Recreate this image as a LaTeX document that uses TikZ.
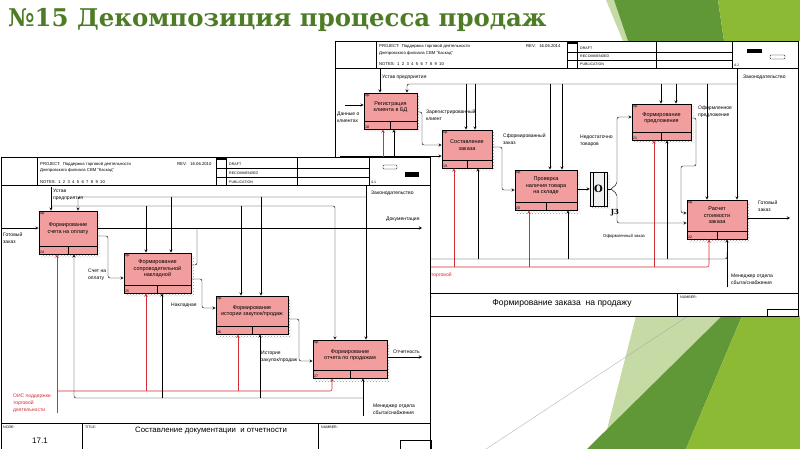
\documentclass[tikz,border=0pt]{standalone}
\usepackage{fontspec}
\setmainfont{Liberation Sans}
\newfontfamily\headfont{DejaVu Serif}
\usetikzlibrary{patterns}
\definecolor{titlegreen}{RGB}{78,124,38}
\definecolor{leafdark}{RGB}{96,152,56}
\definecolor{leaflime}{RGB}{140,186,52}
\definecolor{leafpale}{RGB}{198,218,166}
\definecolor{boxpink}{RGB}{242,158,158}
\definecolor{mechred}{RGB}{212,48,58}
\newcommand{\Lf}[2]{\fontsize{#1}{#2}\selectfont}
% name, x1, y1, x2, y2, number, text
\newcommand{\funcbox}[7]{%
  \fill[pattern=crosshatch dots, pattern color=black!40] (#2+2,#3+3) rectangle (#4+3,#5+3);
  \node[fbox, minimum width={#4-#2}, minimum height={#5-#3}] (#1) at ({(#2+#4)/2},{(#3+#5)/2}) {};
  \draw[line width=0.5pt] (#2,#5-8) -- (#4,#5-8);
  \draw[line width=0.5pt] ({(#2+#4)/2},#5-8) -- ({(#2+#4)/2},#5);
  \node[ftext] (#1-t) at ({(#2+#4)/2},{(#3+#5-8)/2}) {#7};
  \node[tinylbl, anchor=north west] (#1-c) at (#2+1,#3+1) {0р.};
  \node[tinylbl, anchor=south west] (#1-n) at (#2+1,#5-0.5) {#6};
}
\tikzset{
  sheet/.style={line width=0.6pt},
  fbox/.style={draw, fill=boxpink, line width=0.6pt, inner sep=0pt},
  ftext/.style={font=\Lf{5.5}{6.4}, align=center, inner sep=0pt},
  arr/.style={->, >=stealth, line width=0.45pt, rounded corners=2pt},
  redarr/.style={arr, draw=mechred, line width=0.6pt},
  lbl/.style={font=\Lf{5}{7}, align=left, inner sep=0pt, anchor=north west},
  hdr/.style={font=\Lf{4.2}{5}, inner sep=0pt, anchor=west},
  tinylbl/.style={font=\Lf{3.6}{4.2}, inner sep=0pt, anchor=west},
}

\begin{document}
\begin{tikzpicture}[x=1pt,y=-1pt]
\useasboundingbox (0,0) rectangle (800,449);
\fill[white] (0,0) rectangle (800,449);

%%%%%%%%%%%%%%%%%%%%%%%%%%%%%%%%%%%%%%%%%%%%%%%%%%%%%%%%%%%%%% leaves
\fill[leafpale] (606,0) -- (614,0) -- (628,41) -- (623,41) -- cycle;
\fill[leafdark] (614,0) -- (718,0) -- (724,41) -- (628,41) -- cycle;
\fill[leaflime] (718,0) -- (800,0) -- (800,41) -- (724,41) -- cycle;
\fill[leafpale] (636,316) -- (725,316) -- (620,449) -- (602,449) -- cycle;
\fill[leafdark] (722,316) -- (742,316) -- (686,449) -- (587,449) -- cycle;
\fill[leaflime] (742,316) -- (800,316) -- (800,449) -- (686,449) -- cycle;
\draw[black!35, line width=0.3pt] (688,316) -- (486,449);

%%%%%%%%%%%%%%%%%%%%%%%%%%%%%%%%%%%%%%%%%%%%%%%%%%%%%%%%%%%%%% title
\node[anchor=base west, inner sep=0pt, text=titlegreen, font=\headfont\bfseries\Lf{24.4}{30}] (title) at (8,27) {№15 Декомпозиция процесса продаж};

%%%%%%%%%%%%%%%%%%%%%%%%%%%%%%%%%%%%%%%%%%%%%%%%%%%%%%%%%%%%%% sheet-R
\filldraw[sheet, fill=white] (335,41) rectangle (798,316);
\draw (335,68) -- (798,68);
\draw (376,41) -- (376,68);
\draw (567,41) -- (567,68);
\draw (577,41) -- (577,68);
\fill (567,41) rectangle (577,44);
\draw (567,52) -- (732,52);
\draw (567,60) -- (732,60);
\draw (656,41) -- (656,68);
\draw (732,41) -- (732,68);
\fill (747,49) rectangle (762,53);
\draw[rounded corners=0.8pt] (770,55) rectangle (785,59);
\node[hdr] (rProj) at (379,46) {PROJECT:\ \ Поддержка торговой деятельности};
\node[hdr] (rFil) at (379,53) {Днепровского филиала СВМ "Каскад"};
\node[hdr] (rNotes) at (379,64) {NOTES:\ \ 1\ \ 2\ \ 3\ \ 4\ \ 5\ \ 6\ \ 7\ \ 8\ \ 9\ \ 10};
\node[hdr] (rRev) at (526,46) {REV:\ \ \ 16.06.2014};
\node[tinylbl] (rDraft) at (580,48) {DRAFT};
\node[tinylbl] (rRec) at (580,56) {RECOMMENDED};
\node[tinylbl] (rPub) at (580,64) {PUBLICATION};
\node[tinylbl] (rPage) at (734,65) {4.1};
\draw (335,293) -- (798,293);
\draw (677,293) -- (677,316);
\draw (767,309) rectangle (798,316);
\node[tinylbl] (rTitleKey) at (421,297) {TITLE:};
\node[font=\Lf{8.6}{10}, inner sep=0pt] (rTitle) at (562,303) {Формирование заказа\ \ на продажу};
\node[tinylbl] (rNumKey) at (680,297) {NUMBER:};

\funcbox{r1}{364}{93}{417}{129}{18}{Регистрация\\клиента в БД}
\funcbox{r2}{442}{130}{492}{168}{19}{Составление\\заказа}
\funcbox{r3}{515}{170}{577}{210}{20}{Проверка\\наличия товара\\на складе}
\funcbox{r4}{632}{104}{691}{140}{21}{Формирование\\предложения}
\funcbox{r5}{687}{200}{747}{239}{22}{Расчет\\стоимости\\заказа}

\fill[pattern=crosshatch dots, pattern color=black!40] (592,175) rectangle (610,209);
\node[draw, fill=black!6, minimum width=17, minimum height=34, inner sep=0pt, font=\headfont\bfseries\Lf{10}{12}] (j3) at (598.5,189) {O};
\draw ([xshift=3]j3.north west) -- ([xshift=3]j3.south west);
\draw ([xshift=-3]j3.north east) -- ([xshift=-3]j3.south east);
\node[font=\headfont\bfseries\Lf{7}{8}, inner sep=0pt] (j3L) at (615,213) {J3};

% controls
\coordinate (rUst) at (380,69);
\coordinate (rZak) at (737,69);
\draw[arr] (rUst) -- (r1.north -| 380,0);
\draw[arr] (rZak) -- (r5.north -| 737,0);
\draw[arr] (737,84) -- (407,84) -- (r1.north -| 407,0);
\foreach \x/\b in {466/r2,475/r2,550/r3,562/r3,661/r4,676/r4,707/r5}
  \draw[arr] (\x,84) -- (\b.north -| \x,0);
\node[lbl] (rUstL) at (382,75) {Устав предприятия};
\node[lbl] (rZakL) at (743,75) {Законодательство};

% inputs and outputs
\coordinate (rIn1) at (345,105);
\coordinate (rIn2) at (340,156);
\coordinate (rOut) at (790,218);
\draw[arr] (rIn1) -- (r1.west |- 0,105);
\draw[arr] (rIn2) -- (r2.west |- 0,156);
\draw[arr] (r1.east |- 0,112) -- (422,112) -- (422,145) -- (r2.west |- 0,145);
\draw[arr] (r2.east |- 0,147) -- (502,147) -- (502,190) -- (r3.west |- 0,190);
\draw[arr] (r3.east |- 0,189) -- (j3.west);
\draw (j3.east) -- (611,189);
\draw[arr] (611,189) -- (617,184) -- (617,117) -- (r4.west |- 0,117);
\draw[arr] (611,189) -- (617,194) -- (617,223) -- (r5.west |- 0,223);
\draw[arr] (r4.east |- 0,118) -- (696,118) -- (696,166) -- (681,166) -- (681,213) -- (r5.west |- 0,213);
\draw[arr] (r5.east |- 0,218) -- (rOut);
\node[lbl] (rDatL) at (337,112) {Данные о\\клиентах};
\node[lbl] (rRegL) at (426,110) {Зарегистрированный\\клиент};
\node[lbl] (rSfL) at (503,134) {Сформированный\\заказ};
\node[lbl] (rNedL) at (580,135) {Недостаточно\\товаров};
\node[lbl, font=\Lf{4.3}{5}] (rOfzL) at (603,234) {Оформленный заказ};
\node[lbl] (rOfpL) at (698,106) {Оформленное\\предложение};
\node[lbl] (rGotL) at (758,201) {Готовый\\заказ};

% mechanisms
\coordinate (rMgr) at (727,287);
\draw[redarr] (340,267) -- (709,267) -- (r5.south -| 709,0);
\foreach \x/\b in {383/r1,454/r2,529/r3,654/r4}
  \draw[redarr] (\x,267) -- (\b.south -| \x,0);
\draw[arr] (rMgr) -- (r5.south -| 727,0);
\draw[rounded corners=2pt, line width=0.45pt] (727,252) -- (727,259) -- (340,259);
\foreach \x/\b in {394/r1,478/r2,568/r3,667/r4}
  \draw[arr] (\x,259) -- (\b.south -| \x,0);
\node[lbl] (rMgrL) at (731,274) {Менеджер отдела\\сбыта/снабжения};
\node[lbl, text=mechred] (rOisL) at (431,273) {торговой};

%%%%%%%%%%%%%%%%%%%%%%%%%%%%%%%%%%%%%%%%%%%%%%%%%%%%%%%%%%%%%% sheet-L
\filldraw[sheet, fill=white] (1,157) rectangle (430,452);
\draw (1,185) -- (430,185);
\draw (37,157) -- (37,185);
\draw (216,157) -- (216,185);
\draw (226,157) -- (226,185);
\fill (216,157) rectangle (226,160);
\draw (216,168) -- (369,168);
\draw (216,177) -- (369,177);
\draw (297,157) -- (297,185);
\draw (369,157) -- (369,185);
\fill (405,172) rectangle (419,177);
\draw[rounded corners=0.8pt] (383,165) rectangle (397,169);
\node[hdr] (lProj) at (40,164) {PROJECT:\ \ Поддержка торговой деятельности};
\node[hdr] (lFil) at (40,170.5) {Днепровского филиала СВМ "Каскад"};
\node[hdr] (lNotes) at (40,182) {NOTES:\ \ 1\ \ 2\ \ 3\ \ 4\ \ 5\ \ 6\ \ 7\ \ 8\ \ 9\ \ 10};
\node[hdr] (lRev) at (177,164) {REV:\ \ \ 16.06.2010};
\node[tinylbl] (lDraft) at (229,164) {DRAFT};
\node[tinylbl] (lRec) at (229,173) {RECOMMENDED};
\node[tinylbl] (lPub) at (229,182) {PUBLICATION};
\node[tinylbl] (lPage) at (371,182) {4.1};
\draw (1,423) -- (430,423);
\draw (82,423) -- (82,452);
\draw (318,423) -- (318,452);
\draw (400,440) rectangle (431,452);
\node[tinylbl] (lNodeKey) at (3,427) {NODE:};
\node[font=\Lf{8}{9}, inner sep=0pt] (lNode) at (40,441) {17.1};
\node[tinylbl] (lTitleKey) at (85,427) {TITLE:};
\node[font=\Lf{7.8}{9}, inner sep=0pt] (lTitle) at (211,431) {Составление документации\ \ и отчетности};
\node[tinylbl] (lNumKey) at (321,427) {NUMBER:};

\funcbox{l1}{39}{211}{97}{254}{24}{Формирование\\счета на оплату}
\funcbox{l2}{124}{253}{191}{293}{25}{Формирование\\сопроводительной\\накладной}
\funcbox{l3}{216}{296}{288}{334}{26}{Формирование\\истории закупок/продаж}
\funcbox{l4}{313}{340}{387}{378}{27}{Формирование\\отчета по продажам}

% controls
\coordinate (lUst) at (51,187);
\coordinate (lZak) at (366,186);
\draw[arr] (lUst) -- (l1.north -| 51,0);
\draw[arr] (lZak) -- (l4.north -| 366,0);
\draw[arr] (366,197) -- (78,197) -- (l1.north -| 78,0);
\draw[arr] (51,206) -- (335,206) -- (l4.north -| 335,0);
\foreach \x/\b in {171/l2,261/l3}
  \draw[arr] (\x,197) -- (\b.north -| \x,0);
\foreach \x/\b in {146/l2,241/l3}
  \draw[arr] (\x,206) -- (\b.north -| \x,0);
\node[lbl] (lUstL) at (53,189) {Устав\\предприятия};
\node[lbl] (lZakL) at (371,191) {Законодательство};

% inputs and outputs
\coordinate (lIn) at (2,228);
\coordinate (lDoc) at (422,228);
\coordinate (lOtc) at (422,357);
\draw[arr] (lIn) -- (l1.west |- 0,228);
\draw[arr] (l1.east |- 0,228) -- (lDoc);
\draw[arr] (l1.east |- 0,236) -- (108,236) -- (108,278) -- (l2.west |- 0,278);
\draw[rounded corners=2pt, line width=0.45pt] (l2.east |- 0,265) -- (197,265) -- (197,228);
\draw[arr] (l2.east |- 0,279) -- (202,279) -- (202,308) -- (l3.west |- 0,308);
\draw[arr] (l3.east |- 0,319) -- (299,319) -- (299,361) -- (l4.west |- 0,361);
\draw[arr] (l4.east |- 0,357) -- (lOtc);
\node[lbl] (lGotL) at (3,233) {Готовый\\заказ};
\node[lbl] (lDocL) at (386,217) {Документация};
\node[lbl] (lSchL) at (88,269) {Счет на\\оплату};
\node[lbl] (lNakL) at (171,303) {Накладная};
\node[lbl] (lIstL) at (261,351) {История\\закупок/продаж};
\node[lbl] (lOtcL) at (393,350) {Отчетность};

% mechanisms
\coordinate (lOis) at (57,413);
\coordinate (lMgr) at (363,416);
\draw[redarr] (lOis) -- (l1.south -| 57,0);
\draw[redarr] (57,391) -- (332,391) -- (l4.south -| 332,0);
\foreach \x/\b in {146/l2,238/l3}
  \draw[redarr] (\x,391) -- (\b.south -| \x,0);
\draw[arr] (lMgr) -- (l4.south -| 363,0);
\draw[arr] (363,398) -- (74,398) -- (l1.south -| 74,0);
\foreach \x/\b in {162/l2,260/l3}
  \draw[arr] (\x,398) -- (\b.south -| \x,0);
\node[lbl, text=mechred] (lOisL) at (13,394) {ОИС поддержки\\торговой\\деятельности};
\node[lbl] (lMgrL) at (373,404) {Менеджер отдела\\сбыта/снабжения};
\end{tikzpicture}
\end{document}
